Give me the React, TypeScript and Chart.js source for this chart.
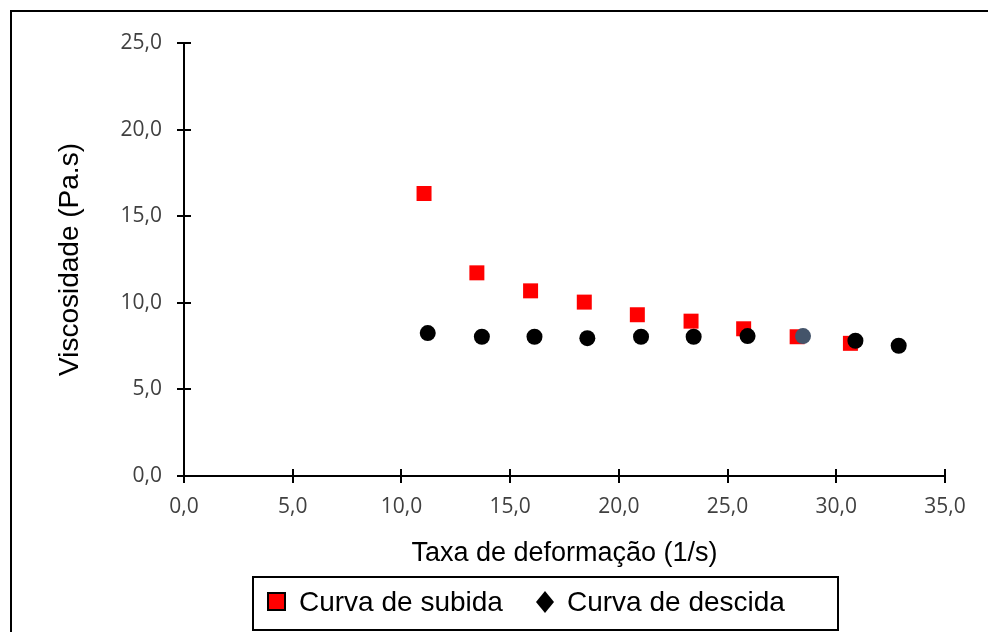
import React, { useEffect, useRef } from "react";
import { Chart, registerables } from "chart.js";

Chart.register(...registerables);

const subidaX = [11.04, 13.47, 15.94, 18.41, 20.85, 23.32, 25.74, 28.2, 30.65];
const subidaY = [16.31, 11.73, 10.69, 10.04, 9.31, 8.94, 8.5, 8.04, 7.66];
const descidaX = [11.21, 13.7, 16.12, 18.55, 21.02, 23.44, 25.92, 28.47, 30.88, 32.87];
const descidaY = [8.25, 8.04, 8.04, 7.96, 8.04, 8.04, 8.08, 8.08, 7.81, 7.52];
const highlightedDescida = 7;

const seriesNames = ["Curva de subida", "Curva de descida"];
const xTitle = "Taxa de deformação (1/s)";
const yTitle = "Viscosidade (Pa.s)";

const fmt = (v: number) => Number(v).toFixed(1).replace(".", ",");

const decorPlugin = {
  id: "decor",
  afterDraw(chart: any) {
    const ctx = chart.ctx;
    const xs = chart.scales.x;
    const ys = chart.scales.y;
    const area = chart.chartArea;
    ctx.save();
    // outer frame
    ctx.strokeStyle = "#000";
    ctx.lineWidth = 2;
    ctx.strokeRect(11, 11, 1100, 800);
    // cross ticks
    ctx.beginPath();
    xs.ticks.forEach((t: any) => {
      const px = Math.round(xs.getPixelForValue(t.value));
      ctx.moveTo(px, area.bottom - 7);
      ctx.lineTo(px, area.bottom + 7);
    });
    ys.ticks.forEach((t: any) => {
      const py = Math.round(ys.getPixelForValue(t.value));
      ctx.moveTo(area.left - 7, py);
      ctx.lineTo(area.left + 7, py);
    });
    ctx.stroke();
    // legend
    ctx.strokeRect(253, 577, 585, 53);
    const cy = 602;
    ctx.fillStyle = "#FF0000";
    ctx.fillRect(268, cy - 9, 17, 17);
    ctx.strokeRect(268, cy - 9, 17, 17);
    ctx.fillStyle = "#000";
    ctx.font = '28px "Liberation Sans", Arial, sans-serif';
    ctx.textBaseline = "middle";
    ctx.textAlign = "left";
    ctx.fillText(seriesNames[0], 299, cy + 1);
    ctx.beginPath();
    ctx.moveTo(545, cy - 11);
    ctx.lineTo(554, cy);
    ctx.lineTo(545, cy + 11);
    ctx.lineTo(536, cy);
    ctx.closePath();
    ctx.fill();
    ctx.fillText(seriesNames[1], 567, cy + 1);
    ctx.restore();
  },
};

export default function App() {
  const ref = useRef<HTMLCanvasElement | null>(null);
  useEffect(() => {
    if (!ref.current) return;
    const chart = new Chart(ref.current, {
      type: "scatter",
      data: {
        datasets: [
          {
            label: seriesNames[0],
            data: subidaX.map((x, i) => ({ x, y: subidaY[i] })),
            pointStyle: "rect",
            pointRadius: 10.6,
            pointHoverRadius: 10.6,
            backgroundColor: "#FF0000",
            borderColor: "#FF0000",
            borderWidth: 0,
            order: 2,
          },
          {
            label: seriesNames[1],
            data: descidaX.map((x, i) => ({ x, y: descidaY[i] })),
            pointStyle: "circle",
            pointRadius: 8,
            pointHoverRadius: 8,
            backgroundColor: (c: any) => (c.dataIndex === highlightedDescida ? "#44546A" : "#000000"),
            borderColor: (c: any) => (c.dataIndex === highlightedDescida ? "#44546A" : "#000000"),
            borderWidth: 0,
            order: 1,
          },
        ],
      },
      options: {
        responsive: false,
        animation: false,
        events: [],
        layout: { padding: { left: 0, right: 43, top: 43, bottom: 0 } },
        plugins: { legend: { display: false }, tooltip: { enabled: false } },
        scales: {
          x: {
            type: "linear",
            min: 0,
            max: 35,
            afterFit: (s: any) => {
              s.height = 156;
            },
            grid: { display: false, drawTicks: false },
            border: { display: true, color: "#000", width: 2 },
            ticks: {
              stepSize: 5,
              padding: 18,
              color: "#404040",
              font: { family: '"Open Sans", sans-serif', size: 21 },
              callback: (v: any) => fmt(v),
              maxRotation: 0,
            },
            title: {
              display: true,
              text: xTitle,
              color: "#000",
              font: { family: '"Liberation Sans", Arial, sans-serif', size: 27 },
              padding: { top: 0, bottom: 62 },
            },
          },
          y: {
            type: "linear",
            min: 0,
            max: 25,
            afterFit: (s: any) => {
              s.width = 184;
            },
            grid: { display: false, drawTicks: false },
            border: { display: true, color: "#000", width: 2 },
            ticks: {
              stepSize: 5,
              padding: 22,
              color: "#404040",
              font: { family: '"Open Sans", sans-serif', size: 21 },
              callback: (v: any) => fmt(v),
            },
            title: {
              display: true,
              text: yTitle,
              color: "#000",
              font: { family: '"Liberation Sans", Arial, sans-serif', size: 28 },
              padding: { top: 53, bottom: 0 },
            },
          },
        },
      },
      plugins: [decorPlugin],
    });
    return () => chart.destroy();
  }, []);
  return (
    <canvas
      ref={ref}
      width={988}
      height={632}
      style={{ position: "fixed", left: 0, top: 0, display: "block", background: "#fff" }}
    />
  );
}
